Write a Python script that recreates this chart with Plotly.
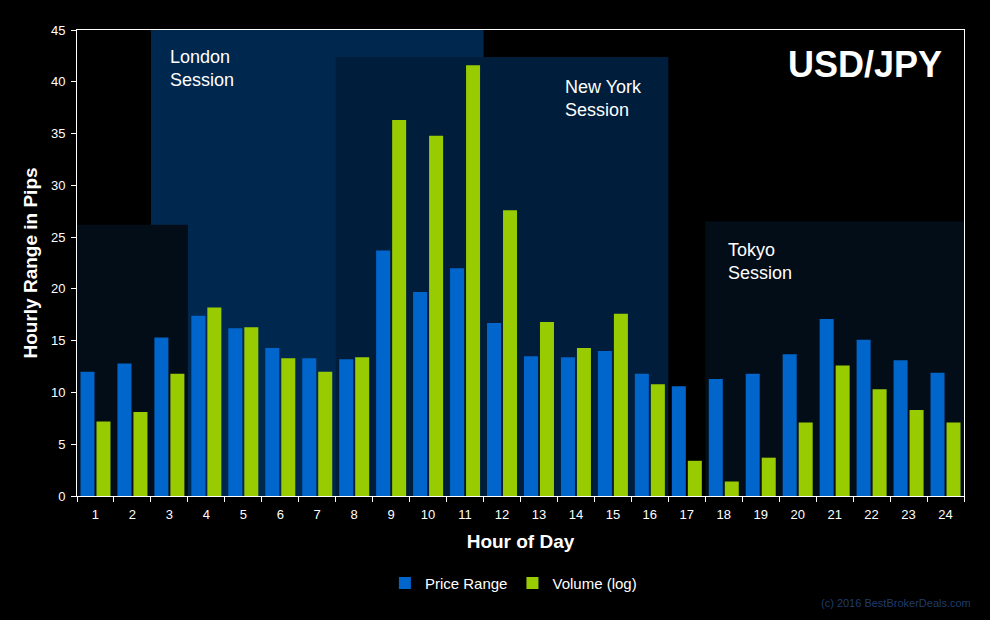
import plotly.graph_objects as go

hours = [str(h) for h in range(1, 25)]
price_range = [12.0, 12.8, 15.3, 17.4, 16.2, 14.3, 13.3, 13.2, 23.7, 19.7, 22.0, 16.7,
               13.5, 13.4, 14.0, 11.8, 10.6, 11.3, 11.8, 13.7, 17.1, 15.1, 13.1, 11.9]
volume_log = [7.2, 8.1, 11.8, 18.2, 16.3, 13.3, 12.0, 13.4, 36.3, 34.8, 41.6, 27.6,
              16.8, 14.3, 17.6, 10.8, 3.4, 1.4, 3.7, 7.1, 12.6, 10.3, 8.3, 7.1]

# sessions: (name, first hour index, last hour index, height, color)
sessions = [
    ("London", 2, 10, 45.0, "#00284f"),
    ("Early", 0, 2, 26.2, "#030d18"),
    ("New York", 7, 15, 42.4, "#001e3b"),
    ("Tokyo", 17, 23, 26.5, "#030d18"),
]

FONT = "Liberation Sans, Arial, sans-serif"

fig = go.Figure()
fig.add_trace(go.Bar(x=hours, y=price_range, name="Price Range", marker_color="#0066cc",
                     marker_line_width=0))
fig.add_trace(go.Bar(x=hours, y=volume_log, name="Volume (log)", marker_color="#99cc00",
                     marker_line_width=0))

shapes = []
for name, i0, i1, h, col in sessions:
    shapes.append(dict(type="rect", xref="x", yref="y", x0=i0 - 0.5, x1=i1 + 0.5, y0=0, y1=h,
                       fillcolor=col, line_width=0, layer="below"))

annotations = [
    dict(text="London<br>Session", x=0.1026, y=0.918, xref="paper", yref="paper",
         xanchor="left", yanchor="middle", align="left", showarrow=False,
         font=dict(size=18, color="#ffffff", family=FONT)),
    dict(text="New York<br>Session", x=0.548, y=0.854, xref="paper", yref="paper",
         xanchor="left", yanchor="middle", align="left", showarrow=False,
         font=dict(size=18, color="#ffffff", family=FONT)),
    dict(text="Tokyo<br>Session", x=0.7317, y=0.504, xref="paper", yref="paper",
         xanchor="left", yanchor="middle", align="left", showarrow=False,
         font=dict(size=18, color="#ffffff", family=FONT)),
    dict(text="<b>USD/JPY</b>", x=0.9775, y=0.925, xref="paper", yref="paper",
         xanchor="right", yanchor="middle", showarrow=False,
         font=dict(size=36, color="#ffffff", family=FONT)),
    dict(text="(c) 2016 BestBrokerDeals.com", x=1.0101, y=-0.23, xref="paper", yref="paper",
         xanchor="right", yanchor="middle", showarrow=False,
         font=dict(size=11, color="#1f3c6c", family=FONT)),
]

fig.update_layout(
    width=990, height=620,
    margin=dict(l=77, r=26, t=30, b=124),
    paper_bgcolor="#000000", plot_bgcolor="#000000",
    barmode="group", bargap=0.134, bargroupgap=0.125,
    font=dict(family=FONT, color="#ffffff", size=13),
    shapes=shapes, annotations=annotations,
    legend=dict(orientation="h", x=0.492, y=-0.187, xanchor="center", yanchor="middle",
                font=dict(size=15, color="#ffffff", family=FONT), bgcolor="rgba(0,0,0,0)"),
    xaxis=dict(type="category", tickson="boundaries", ticks="outside", ticklen=5,
               tickcolor="#ffffff", showline=True, linecolor="#ffffff", linewidth=1,
               mirror=True, showgrid=False, zeroline=False, ticklabelstandoff=6,
               tickfont=dict(size=13, color="#ffffff"),
               title=dict(text="<b>Hour of Day</b>", standoff=14,
                          font=dict(size=19, color="#ffffff", family=FONT))),
    yaxis=dict(range=[0, 45], dtick=5, ticks="outside", ticklen=5, tickcolor="#ffffff",
               showline=True, linecolor="#ffffff", linewidth=1, mirror=True,
               showgrid=False, zeroline=False, ticklabelstandoff=3,
               tickfont=dict(size=13, color="#ffffff"),
               title=dict(text="<b>Hourly Range in Pips</b>", standoff=8,
                          font=dict(size=19, color="#ffffff", family=FONT))),
)

fig.write_html("out.html", config={"displayModeBar": False},
               post_script="document.body.style.margin='0';document.body.style.background='#000';")
